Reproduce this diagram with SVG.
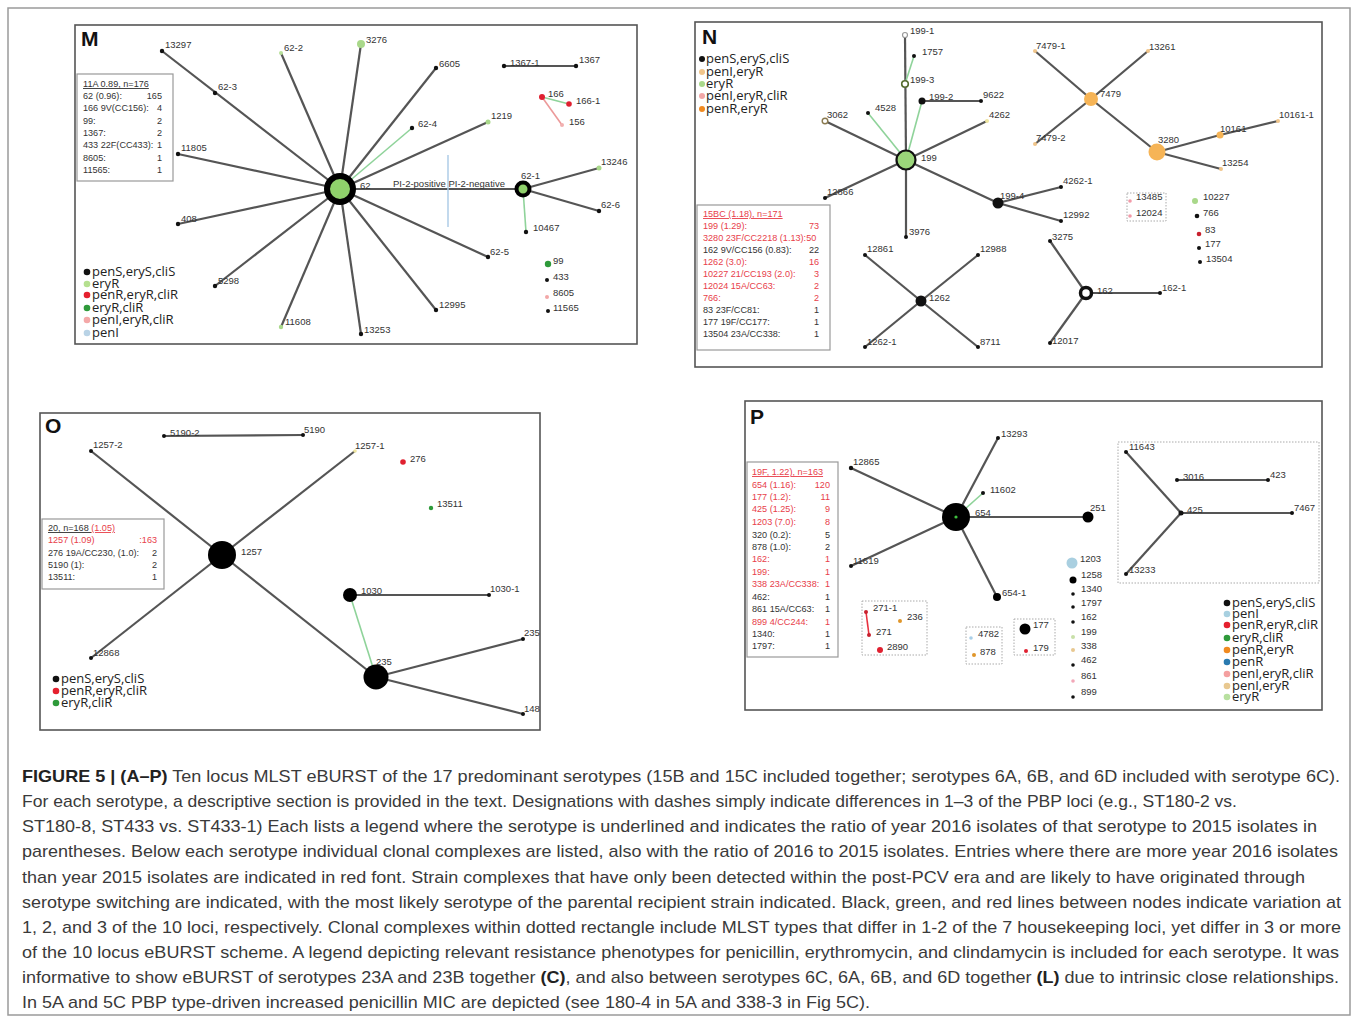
<svg xmlns="http://www.w3.org/2000/svg" width="1357" height="1022" viewBox="0 0 1357 1022">
<style>
.bg{fill:#fff}
.frame{fill:none;stroke:#9a9a9a;stroke-width:1.5}
.box{fill:#fff;stroke:#555;stroke-width:1.6}
.lbox{fill:#fff;stroke:#999;stroke-width:1.2}
.dbox{fill:none;stroke:#aaa;stroke-width:1;stroke-dasharray:1.5,1.5}
.e{stroke:#555;stroke-width:2.2;fill:none}
.eg{stroke:#8fd39a;stroke-width:1.6;fill:none}
.er{stroke:#e8303e;stroke-width:1.6;fill:none}
.ep{stroke:#ec9a9a;stroke-width:1.6;fill:none}
.eb{stroke:#a9c9e6;stroke-width:1.4;fill:none}
.t{font-family:"Liberation Sans",Arial,sans-serif;font-size:9.5px;fill:#333}
.lg{font-family:"Liberation Sans",Arial,sans-serif;font-size:9.1px;fill:#333}
.red{fill:#e8404a}
.key{font-family:"Open Sans","Liberation Sans",sans-serif;font-size:13px;fill:#222}
.pl{font-family:"Liberation Sans",Arial,sans-serif;font-size:21px;font-weight:bold;fill:#111}
.cap{font-family:"Liberation Sans",Arial,sans-serif;font-size:16.2px;fill:#3a3a3a}
.b{font-weight:bold;fill:#222}
</style>
<rect class="bg" x="0" y="0" width="1357" height="1022"/>
<rect class="frame" x="8" y="8" width="1342" height="1007"/>

<!-- ===================== PANEL M ===================== -->
<g id="panel-M">
<rect class="box" x="75" y="25" width="562" height="319"/>
<text class="pl" x="81" y="46">M</text>
<g id="m-connectors">
<line class="e" x1="340" y1="189" x2="162" y2="51"/>
<line class="e" x1="340" y1="189" x2="281" y2="53"/>
<line class="e" x1="340" y1="189" x2="361" y2="44"/>
<line class="e" x1="340" y1="189" x2="436" y2="68"/>
<line class="eg" x1="340" y1="189" x2="412" y2="128"/>
<line class="e" x1="340" y1="189" x2="488" y2="122"/>
<line class="e" x1="340" y1="189" x2="523" y2="189"/>
<line class="e" x1="340" y1="189" x2="488" y2="257"/>
<line class="e" x1="340" y1="189" x2="436" y2="310"/>
<line class="e" x1="340" y1="189" x2="361" y2="334"/>
<line class="e" x1="340" y1="189" x2="281" y2="327"/>
<line class="e" x1="340" y1="189" x2="215" y2="286"/>
<line class="e" x1="340" y1="189" x2="178" y2="224"/>
<line class="e" x1="340" y1="189" x2="178" y2="154"/>
<line class="e" x1="523" y1="189" x2="599" y2="168"/>
<line class="e" x1="523" y1="189" x2="599" y2="211"/>
<line class="eg" x1="523" y1="189" x2="526" y2="232"/>
<line class="e" x1="504" y1="66" x2="576" y2="66"/>
<line class="eg" x1="542" y1="97" x2="569" y2="104"/>
<line class="ep" x1="542" y1="97" x2="562" y2="125"/>
<line class="eb" x1="448" y1="155" x2="448" y2="227"/>
</g>
<text class="t" x="393" y="187" font-size="9">PI-2-positive  PI-2-negative</text>
<g id="m-62"><circle cx="340" cy="189" r="13" fill="#8fd16b" stroke="#000" stroke-width="6"/><text class="t" x="360" y="189">62</text></g>
<g id="m-62-1"><circle cx="523" cy="189" r="6.5" fill="#8fd16b" stroke="#000" stroke-width="4"/><text class="t" x="521" y="179">62-1</text></g>
<g id="m-13297"><circle cx="162" cy="51" r="2.2" fill="#111"/><text class="t" x="165" y="48">13297</text></g>
<g id="m-62-3"><circle cx="215" cy="93" r="2.2" fill="#111"/><text class="t" x="218" y="90">62-3</text></g>
<g id="m-62-2"><circle cx="281" cy="53" r="2" fill="#b8e09a"/><text class="t" x="284" y="51">62-2</text></g>
<g id="m-3276"><circle cx="361" cy="44" r="4" fill="#a9d88a"/><text class="t" x="366" y="43">3276</text></g>
<g id="m-6605"><circle cx="436" cy="68" r="2.2" fill="#111"/><text class="t" x="439" y="67">6605</text></g>
<g id="m-62-4"><circle cx="412" cy="128" r="2.2" fill="#111"/><text class="t" x="418" y="127">62-4</text></g>
<g id="m-1219"><circle cx="488" cy="122" r="2.5" fill="#a9d88a"/><text class="t" x="491" y="119">1219</text></g>
<g id="m-11805"><circle cx="178" cy="154" r="2.2" fill="#111"/><text class="t" x="181" y="151">11805</text></g>
<g id="m-408"><circle cx="178" cy="224" r="2.2" fill="#111"/><text class="t" x="181" y="222">408</text></g>
<g id="m-5298"><circle cx="215" cy="286" r="2.2" fill="#111"/><text class="t" x="218" y="284">5298</text></g>
<g id="m-11608"><circle cx="281" cy="327" r="2.2" fill="#a9d88a"/><text class="t" x="285" y="325">11608</text></g>
<g id="m-13253"><circle cx="361" cy="334" r="2.2" fill="#111"/><text class="t" x="364" y="333">13253</text></g>
<g id="m-12995"><circle cx="436" cy="310" r="2.2" fill="#111"/><text class="t" x="439" y="308">12995</text></g>
<g id="m-62-5"><circle cx="488" cy="257" r="2.2" fill="#111"/><text class="t" x="490" y="255">62-5</text></g>
<g id="m-13246"><circle cx="599" cy="168" r="2.5" fill="#a9d88a"/><text class="t" x="601" y="165">13246</text></g>
<g id="m-62-6"><circle cx="599" cy="211" r="2.2" fill="#111"/><text class="t" x="601" y="208">62-6</text></g>
<g id="m-10467"><circle cx="526" cy="232" r="2.2" fill="#111"/><text class="t" x="533" y="231">10467</text></g>
<g id="m-1367-1"><circle cx="504" cy="66" r="2.2" fill="#111"/><text class="t" x="510" y="66">1367-1</text></g>
<g id="m-1367"><circle cx="576" cy="66" r="2.2" fill="#111"/><text class="t" x="579" y="63">1367</text></g>
<g id="m-166"><circle cx="542" cy="97" r="3" fill="#e02030"/><text class="t" x="548" y="97">166</text></g>
<g id="m-166-1"><circle cx="569" cy="104" r="2.8" fill="#e02030"/><text class="t" x="576" y="104">166-1</text></g>
<g id="m-156"><circle cx="562" cy="125" r="2" fill="#f2b0b0"/><text class="t" x="569" y="125">156</text></g>
<g id="m-99"><circle cx="548" cy="264" r="3.2" fill="#2e9a3a"/><text class="t" x="553" y="264">99</text></g>
<g id="m-433"><circle cx="547" cy="280" r="2" fill="#111"/><text class="t" x="553" y="280">433</text></g>
<g id="m-8605"><circle cx="547" cy="297" r="2" fill="#f2a7a7"/><text class="t" x="553" y="296">8605</text></g>
<g id="m-11565"><circle cx="548" cy="311" r="2" fill="#111"/><text class="t" x="553" y="311">11565</text></g>
<g id="m-legend">
<rect class="lbox" x="77" y="74" width="96" height="107"/>
<text class="lg" x="83" y="87" text-decoration="underline">11A 0.89,   n=176</text>
<text class="lg" x="83" y="99">62 (0.96):</text><text class="lg" x="162" y="99" text-anchor="end">165</text>
<text class="lg" x="83" y="111">166 9V(CC156):</text><text class="lg" x="162" y="111" text-anchor="end">4</text>
<text class="lg" x="83" y="124">99:</text><text class="lg" x="162" y="124" text-anchor="end">2</text>
<text class="lg" x="83" y="136">1367:</text><text class="lg" x="162" y="136" text-anchor="end">2</text>
<text class="lg" x="83" y="148">433 22F(CC433):</text><text class="lg" x="162" y="148" text-anchor="end">1</text>
<text class="lg" x="83" y="161">8605:</text><text class="lg" x="162" y="161" text-anchor="end">1</text>
<text class="lg" x="83" y="173">11565:</text><text class="lg" x="162" y="173" text-anchor="end">1</text>
</g>
<g id="m-key">
<circle cx="87" cy="272" r="3.3" fill="#111"/><text class="key" x="92" y="276">penS,eryS,cliS</text>
<circle cx="87" cy="284" r="3.3" fill="#b5e08f"/><text class="key" x="92" y="288">eryR</text>
<circle cx="87" cy="295" r="3.3" fill="#e5202e"/><text class="key" x="92" y="299">penR,eryR,cliR</text>
<circle cx="87" cy="308" r="3.3" fill="#2e9a3a"/><text class="key" x="92" y="312">eryR,cliR</text>
<circle cx="87" cy="320" r="3.3" fill="#f4a8a8"/><text class="key" x="92" y="324">penI,eryR,cliR</text>
<circle cx="87" cy="333" r="3.3" fill="#b9d3e6"/><text class="key" x="92" y="337">penI</text>
</g>
</g>

<!-- ===================== PANEL N ===================== -->
<g id="panel-N">
<rect class="box" x="695" y="22" width="627" height="345"/>
<text class="pl" x="702" y="44">N</text>
<g id="n-connectors">
<line class="e" x1="906" y1="160" x2="905" y2="35"/>
<line class="eg" x1="905" y1="84" x2="914" y2="56"/>
<line class="eg" x1="906" y1="160" x2="922" y2="101"/>
<line class="e" x1="922" y1="101" x2="981" y2="101"/>
<line class="eg" x1="906" y1="160" x2="868" y2="113"/>
<line class="e" x1="906" y1="160" x2="825" y2="121"/>
<line class="e" x1="906" y1="160" x2="987" y2="121"/>
<line class="e" x1="906" y1="160" x2="825" y2="198"/>
<line class="e" x1="906" y1="160" x2="906" y2="237"/>
<line class="e" x1="906" y1="160" x2="998" y2="203"/>
<line class="e" x1="998" y1="203" x2="1061" y2="187"/>
<line class="e" x1="998" y1="203" x2="1061" y2="221"/>
<line class="e" x1="1086" y1="293" x2="1050" y2="241"/>
<line class="e" x1="1086" y1="293" x2="1160" y2="293"/>
<line class="e" x1="1086" y1="293" x2="1050" y2="343"/>
<line class="e" x1="921" y1="301" x2="865" y2="255"/>
<line class="e" x1="921" y1="301" x2="978" y2="255"/>
<line class="e" x1="921" y1="301" x2="865" y2="347"/>
<line class="e" x1="921" y1="301" x2="978" y2="347"/>
<line class="e" x1="1091" y1="99" x2="1035" y2="51"/>
<line class="e" x1="1091" y1="99" x2="1148" y2="51"/>
<line class="e" x1="1091" y1="99" x2="1035" y2="144"/>
<line class="e" x1="1091" y1="99" x2="1157" y2="152"/>
<line class="e" x1="1157" y1="152" x2="1220" y2="135"/>
<line class="e" x1="1220" y1="135" x2="1278" y2="121"/>
<line class="e" x1="1157" y1="152" x2="1221" y2="169"/>
</g>
<g id="n-199"><circle cx="906" cy="160" r="9.5" fill="#9bd67a" stroke="#111" stroke-width="2.2"/><text class="t" x="921" y="161">199</text></g>
<g id="n-199-1"><circle cx="905" cy="35" r="2.5" fill="#fff" stroke="#999" stroke-width="1.2"/><text class="t" x="910" y="34">199-1</text></g>
<g id="n-1757"><circle cx="914" cy="56" r="2" fill="#111"/><text class="t" x="922" y="55">1757</text></g>
<g id="n-199-3"><circle cx="905" cy="84" r="3.3" fill="#fff" stroke="#556b2f" stroke-width="1.6"/><text class="t" x="910" y="83">199-3</text></g>
<g id="n-199-2"><circle cx="922" cy="101" r="3.5" fill="#111"/><text class="t" x="929" y="100">199-2</text></g>
<g id="n-9622"><circle cx="981" cy="101" r="2" fill="#111"/><text class="t" x="983" y="98">9622</text></g>
<g id="n-4528"><circle cx="868" cy="113" r="2" fill="#111"/><text class="t" x="875" y="111">4528</text></g>
<g id="n-3062"><circle cx="825" cy="121" r="2.8" fill="#fff" stroke="#8a7a50" stroke-width="1.4"/><text class="t" x="827" y="118">3062</text></g>
<g id="n-4262"><circle cx="987" cy="121" r="2" fill="#efe6a0"/><text class="t" x="989" y="118">4262</text></g>
<g id="n-12866"><circle cx="825" cy="198" r="2" fill="#111"/><text class="t" x="827" y="195">12866</text></g>
<g id="n-3976"><circle cx="906" cy="237" r="2" fill="#111"/><text class="t" x="909" y="235">3976</text></g>
<g id="n-199-4"><circle cx="998" cy="203" r="5.5" fill="#111"/><text class="t" x="1000" y="199">199-4</text></g>
<g id="n-4262-1"><circle cx="1061" cy="187" r="2" fill="#111"/><text class="t" x="1063" y="184">4262-1</text></g>
<g id="n-12992"><circle cx="1061" cy="221" r="2" fill="#111"/><text class="t" x="1063" y="218">12992</text></g>
<g id="n-3275"><circle cx="1050" cy="241" r="2" fill="#111"/><text class="t" x="1052" y="240">3275</text></g>
<g id="n-162"><circle cx="1086" cy="293" r="5.5" fill="#fff" stroke="#111" stroke-width="3.5"/><text class="t" x="1097" y="294">162</text></g>
<g id="n-162-1"><circle cx="1160" cy="293" r="2" fill="#111"/><text class="t" x="1162" y="291">162-1</text></g>
<g id="n-12017"><circle cx="1050" cy="343" r="2" fill="#111"/><text class="t" x="1052" y="344">12017</text></g>
<g id="n-1262"><circle cx="921" cy="301" r="5.5" fill="#111"/><text class="t" x="929" y="301">1262</text></g>
<g id="n-12861"><circle cx="865" cy="255" r="2" fill="#111"/><text class="t" x="867" y="252">12861</text></g>
<g id="n-12988"><circle cx="978" cy="255" r="2" fill="#111"/><text class="t" x="980" y="252">12988</text></g>
<g id="n-1262-1"><circle cx="865" cy="347" r="2" fill="#111"/><text class="t" x="867" y="345">1262-1</text></g>
<g id="n-8711"><circle cx="978" cy="347" r="2" fill="#111"/><text class="t" x="980" y="345">8711</text></g>
<g id="n-7479"><circle cx="1091" cy="99" r="7" fill="#f6b456"/><text class="t" x="1100" y="97">7479</text></g>
<g id="n-7479-1"><circle cx="1035" cy="51" r="2" fill="#f0c58a"/><text class="t" x="1036" y="49">7479-1</text></g>
<g id="n-13261"><circle cx="1148" cy="51" r="2" fill="#f0c58a"/><text class="t" x="1149" y="50">13261</text></g>
<g id="n-7479-2"><circle cx="1035" cy="144" r="2" fill="#f0c58a"/><text class="t" x="1036" y="141">7479-2</text></g>
<g id="n-3280"><circle cx="1157" cy="152" r="8.5" fill="#f6b456"/><text class="t" x="1158" y="143">3280</text></g>
<g id="n-10161"><circle cx="1220" cy="135" r="3.5" fill="#f6b456"/><text class="t" x="1220" y="132">10161</text></g>
<g id="n-10161-1"><circle cx="1278" cy="121" r="2" fill="#f0c58a"/><text class="t" x="1279" y="118">10161-1</text></g>
<g id="n-13254"><circle cx="1221" cy="169" r="2" fill="#f0c58a"/><text class="t" x="1222" y="166">13254</text></g>
<g id="n-cluster-13485">
<rect class="dbox" x="1127" y="193" width="39" height="28"/>
<circle cx="1130" cy="201" r="1.8" fill="#f29aa8"/><text class="t" x="1136" y="200">13485</text>
<circle cx="1130" cy="216" r="1.8" fill="#f29aa8"/><text class="t" x="1136" y="216">12024</text>
</g>
<g id="n-10227"><circle cx="1195" cy="201" r="3" fill="#a9d88a"/><text class="t" x="1203" y="200">10227</text></g>
<g id="n-766"><circle cx="1197" cy="216" r="2.3" fill="#111"/><text class="t" x="1203" y="216">766</text></g>
<g id="n-83"><circle cx="1199" cy="234" r="2.3" fill="#c8202e"/><text class="t" x="1205" y="233">83</text></g>
<g id="n-177"><circle cx="1199" cy="248" r="2" fill="#111"/><text class="t" x="1205" y="247">177</text></g>
<g id="n-13504"><circle cx="1200" cy="262" r="2" fill="#111"/><text class="t" x="1206" y="262">13504</text></g>
<g id="n-legend">
<rect class="lbox" x="697" y="205" width="133" height="145"/>
<text class="lg red" x="703" y="217" text-decoration="underline">15BC (1.18),             n=171</text>
<text class="lg red" x="703" y="229">199 (1.29):</text><text class="lg red" x="819" y="229" text-anchor="end">73</text>
<text class="lg red" x="703" y="241">3280 23F/CC2218 (1.13):50</text>
<text class="lg" x="703" y="253">162 9V/CC156 (0.83):</text><text class="lg" x="819" y="253" text-anchor="end">22</text>
<text class="lg red" x="703" y="265">1262 (3.0):</text><text class="lg red" x="819" y="265" text-anchor="end">16</text>
<text class="lg red" x="703" y="277">10227 21/CC193 (2.0):</text><text class="lg red" x="819" y="277" text-anchor="end">3</text>
<text class="lg red" x="703" y="289">12024 15A/CC63:</text><text class="lg red" x="819" y="289" text-anchor="end">2</text>
<text class="lg red" x="703" y="301">766:</text><text class="lg red" x="819" y="301" text-anchor="end">2</text>
<text class="lg" x="703" y="313">83 23F/CC81:</text><text class="lg" x="819" y="313" text-anchor="end">1</text>
<text class="lg" x="703" y="325">177 19F/CC177:</text><text class="lg" x="819" y="325" text-anchor="end">1</text>
<text class="lg" x="703" y="337">13504 23A/CC338:</text><text class="lg" x="819" y="337" text-anchor="end">1</text>
</g>
<g id="n-key">
<circle cx="702" cy="59" r="3" fill="#111"/><text class="key" x="706" y="63">penS,eryS,cliS</text>
<circle cx="702" cy="72" r="3" fill="#f0c58a"/><text class="key" x="706" y="76">penI,eryR</text>
<circle cx="702" cy="84" r="3" fill="#a9d88a"/><text class="key" x="706" y="88">eryR</text>
<circle cx="702" cy="96" r="3" fill="#f2a7a7"/><text class="key" x="706" y="100">penI,eryR,cliR</text>
<circle cx="702" cy="109" r="3" fill="#f08a20"/><text class="key" x="706" y="113">penR,eryR</text>
</g>
</g>

<!-- ===================== PANEL O ===================== -->
<g id="panel-O">
<rect class="box" x="40" y="413" width="500" height="317"/>
<text class="pl" x="45" y="433">O</text>
<g id="o-connectors">
<line class="e" x1="222" y1="555" x2="91" y2="451"/>
<line class="e" x1="222" y1="555" x2="355" y2="451"/>
<line class="e" x1="222" y1="555" x2="91" y2="658"/>
<line class="e" x1="222" y1="555" x2="376" y2="677"/>
<line class="e" x1="164" y1="436" x2="303" y2="435"/>
<line class="e" x1="350" y1="595" x2="489" y2="595"/>
<line class="eg" x1="350" y1="595" x2="376" y2="677"/>
<line class="e" x1="376" y1="677" x2="523" y2="639"/>
<line class="e" x1="376" y1="677" x2="523" y2="714"/>
</g>
<g id="o-1257"><circle cx="222" cy="555" r="14" fill="#000"/><text class="t" x="241" y="555">1257</text></g>
<g id="o-1257-2"><circle cx="91" cy="451" r="2" fill="#111"/><text class="t" x="93" y="448">1257-2</text></g>
<g id="o-5190-2"><circle cx="164" cy="436" r="2" fill="#111"/><text class="t" x="170" y="436">5190-2</text></g>
<g id="o-5190"><circle cx="303" cy="435" r="2" fill="#111"/><text class="t" x="304" y="433">5190</text></g>
<g id="o-1257-1"><circle cx="355" cy="451" r="1.8" fill="#efe6a0"/><text class="t" x="355" y="449">1257-1</text></g>
<g id="o-276"><circle cx="403" cy="462" r="2.8" fill="#e02030"/><text class="t" x="410" y="462">276</text></g>
<g id="o-13511"><circle cx="431" cy="508" r="2.2" fill="#2e9a3a"/><text class="t" x="437" y="507">13511</text></g>
<g id="o-12868"><circle cx="91" cy="658" r="2" fill="#111"/><text class="t" x="93" y="656">12868</text></g>
<g id="o-1030"><circle cx="350" cy="595" r="7" fill="#000"/><text class="t" x="361" y="594">1030</text></g>
<g id="o-1030-1"><circle cx="489" cy="595" r="2" fill="#111"/><text class="t" x="490" y="592">1030-1</text></g>
<g id="o-235"><circle cx="376" cy="677" r="12.5" fill="#000"/><text class="t" x="376" y="665">235</text></g>
<g id="o-235b"><circle cx="523" cy="639" r="2" fill="#111"/><text class="t" x="524" y="636">235</text></g>
<g id="o-148"><circle cx="523" cy="714" r="2" fill="#111"/><text class="t" x="524" y="712">148</text></g>
<g id="o-legend">
<rect class="lbox" x="42" y="519" width="122" height="70"/>
<text class="lg" x="48" y="531"><tspan text-decoration="underline">20, n=168 </tspan><tspan class="red" text-decoration="underline">(1.05)</tspan></text>
<text class="lg red" x="48" y="543">1257 (1.09)</text><text class="lg red" x="157" y="543" text-anchor="end">:163</text>
<text class="lg" x="48" y="556">276 19A/CC230, (1.0):</text><text class="lg" x="157" y="556" text-anchor="end">2</text>
<text class="lg" x="48" y="568">5190 (1):</text><text class="lg" x="157" y="568" text-anchor="end">2</text>
<text class="lg" x="48" y="580">13511:</text><text class="lg" x="157" y="580" text-anchor="end">1</text>
</g>
<g id="o-key">
<circle cx="56" cy="679" r="3.3" fill="#111"/><text class="key" x="61" y="683">penS,eryS,cliS</text>
<circle cx="56" cy="691" r="3.3" fill="#e5202e"/><text class="key" x="61" y="695">penR,eryR,cliR</text>
<circle cx="56" cy="703" r="3.3" fill="#2e9a3a"/><text class="key" x="61" y="707">eryR,cliR</text>
</g>
</g>

<!-- ===================== PANEL P ===================== -->
<g id="panel-P">
<rect class="box" x="745" y="401" width="577" height="309"/>
<text class="pl" x="750" y="424">P</text>
<g id="p-connectors">
<line class="e" x1="956" y1="517" x2="998" y2="438"/>
<line class="e" x1="956" y1="517" x2="851" y2="468"/>
<line class="eg" x1="956" y1="517" x2="983" y2="493"/>
<line class="e" x1="956" y1="517" x2="1088" y2="517"/>
<line class="e" x1="956" y1="517" x2="851" y2="566"/>
<line class="e" x1="956" y1="517" x2="997" y2="597"/>
<line class="er" x1="866" y1="612" x2="869" y2="635"/>
<line class="e" x1="1181" y1="513" x2="1126" y2="452"/>
<line class="e" x1="1181" y1="513" x2="1126" y2="574"/>
<line class="e" x1="1181" y1="513" x2="1292" y2="513"/>
<line class="e" x1="1177" y1="480" x2="1268" y2="480"/>
</g>
<g id="p-654"><circle cx="956" cy="517" r="14" fill="#000"/><circle cx="956" cy="517" r="1.6" fill="#3fbf3f"/><text class="t" x="975" y="516">654</text></g>
<g id="p-13293"><circle cx="998" cy="438" r="2" fill="#111"/><text class="t" x="1001" y="437">13293</text></g>
<g id="p-12865"><circle cx="851" cy="468" r="2.2" fill="#111"/><text class="t" x="853" y="465">12865</text></g>
<g id="p-11602"><circle cx="983" cy="493" r="2" fill="#111"/><text class="t" x="990" y="493">11602</text></g>
<g id="p-11619"><circle cx="851" cy="566" r="2" fill="#111"/><text class="t" x="853" y="564">11619</text></g>
<g id="p-654-1"><circle cx="997" cy="597" r="4" fill="#000"/><text class="t" x="1002" y="596">654-1</text></g>
<g id="p-251"><circle cx="1088" cy="517" r="5.5" fill="#000"/><text class="t" x="1090" y="511">251</text></g>
<g id="p-cluster-271">
<rect class="dbox" x="862" y="601" width="65" height="54"/>
<circle cx="866" cy="612" r="2" fill="#c8202e"/><text class="t" x="873" y="611">271-1</text>
<circle cx="869" cy="635" r="2" fill="#c8202e"/><text class="t" x="876" y="635">271</text>
<circle cx="900" cy="621" r="2" fill="#e0962a"/><text class="t" x="907" y="620">236</text>
<circle cx="880" cy="650" r="3" fill="#e02030"/><text class="t" x="887" y="650">2890</text>
</g>
<g id="p-cluster-4782">
<rect class="dbox" x="966" y="627" width="36" height="37"/>
<circle cx="971" cy="638" r="1.8" fill="#a9cfe8"/><text class="t" x="978" y="637">4782</text>
<circle cx="974" cy="655" r="2" fill="#e0962a"/><text class="t" x="980" y="655">878</text>
</g>
<g id="p-cluster-177">
<rect class="dbox" x="1014" y="619" width="41" height="36"/>
<circle cx="1025" cy="629" r="5.5" fill="#000"/><text class="t" x="1033" y="628">177</text>
<circle cx="1026" cy="651" r="2" fill="#e02030"/><text class="t" x="1033" y="651">179</text>
</g>
<g id="p-1203"><circle cx="1072" cy="563" r="5.5" fill="#a9cfe0"/><text class="t" x="1080" y="562">1203</text></g>
<g id="p-1258"><circle cx="1073" cy="580" r="3.5" fill="#000"/><text class="t" x="1081" y="578">1258</text></g>
<g id="p-1340"><circle cx="1073" cy="594" r="1.8" fill="#111"/><text class="t" x="1081" y="592">1340</text></g>
<g id="p-1797"><circle cx="1073" cy="607" r="1.8" fill="#111"/><text class="t" x="1081" y="606">1797</text></g>
<g id="p-162"><circle cx="1073" cy="622" r="1.8" fill="#111"/><text class="t" x="1081" y="620">162</text></g>
<g id="p-199"><circle cx="1073" cy="637" r="2" fill="#c8e0a8"/><text class="t" x="1081" y="635">199</text></g>
<g id="p-338"><circle cx="1073" cy="650" r="2" fill="#e8c890"/><text class="t" x="1081" y="649">338</text></g>
<g id="p-462"><circle cx="1073" cy="665" r="1.8" fill="#111"/><text class="t" x="1081" y="663">462</text></g>
<g id="p-861"><circle cx="1073" cy="681" r="1.8" fill="#f2a7b8"/><text class="t" x="1081" y="679">861</text></g>
<g id="p-899"><circle cx="1073" cy="697" r="1.8" fill="#111"/><text class="t" x="1081" y="695">899</text></g>
<g id="p-cluster-425">
<rect class="dbox" x="1118" y="442" width="201" height="141"/>
</g>
<g id="p-425"><circle cx="1181" cy="513" r="2.5" fill="#111"/><text class="t" x="1187" y="513">425</text></g>
<g id="p-11643"><circle cx="1126" cy="452" r="2" fill="#111"/><text class="t" x="1129" y="450">11643</text></g>
<g id="p-13233"><circle cx="1126" cy="574" r="2" fill="#111"/><text class="t" x="1129" y="573">13233</text></g>
<g id="p-3016"><circle cx="1177" cy="480" r="2" fill="#111"/><text class="t" x="1183" y="480">3016</text></g>
<g id="p-423"><circle cx="1268" cy="480" r="2" fill="#111"/><text class="t" x="1270" y="478">423</text></g>
<g id="p-7467"><circle cx="1292" cy="513" r="2" fill="#111"/><text class="t" x="1294" y="511">7467</text></g>
<g id="p-legend">
<rect class="lbox" x="747" y="462" width="91" height="195"/>
<text class="lg red" x="752" y="475" text-decoration="underline">19F, 1.22), n=163</text>
<text class="lg red" x="752" y="488">654 (1.16):</text><text class="lg red" x="830" y="488" text-anchor="end">120</text>
<text class="lg red" x="752" y="500">177 (1.2):</text><text class="lg red" x="830" y="500" text-anchor="end">11</text>
<text class="lg red" x="752" y="512">425 (1.25):</text><text class="lg red" x="830" y="512" text-anchor="end">9</text>
<text class="lg red" x="752" y="525">1203 (7.0):</text><text class="lg red" x="830" y="525" text-anchor="end">8</text>
<text class="lg" x="752" y="538">320 (0.2):</text><text class="lg" x="830" y="538" text-anchor="end">5</text>
<text class="lg" x="752" y="550">878 (1.0):</text><text class="lg" x="830" y="550" text-anchor="end">2</text>
<text class="lg red" x="752" y="562">162:</text><text class="lg red" x="830" y="562" text-anchor="end">1</text>
<text class="lg red" x="752" y="575">199:</text><text class="lg red" x="830" y="575" text-anchor="end">1</text>
<text class="lg red" x="752" y="587">338 23A/CC338:</text><text class="lg red" x="830" y="587" text-anchor="end">1</text>
<text class="lg" x="752" y="600">462:</text><text class="lg" x="830" y="600" text-anchor="end">1</text>
<text class="lg" x="752" y="612">861 15A/CC63:</text><text class="lg" x="830" y="612" text-anchor="end">1</text>
<text class="lg red" x="752" y="625">899 4/CC244:</text><text class="lg red" x="830" y="625" text-anchor="end">1</text>
<text class="lg" x="752" y="637">1340:</text><text class="lg" x="830" y="637" text-anchor="end">1</text>
<text class="lg" x="752" y="649">1797:</text><text class="lg" x="830" y="649" text-anchor="end">1</text>
</g>
<g id="p-key">
<circle cx="1227" cy="603" r="3.3" fill="#111"/><text class="key" x="1232" y="607">penS,eryS,cliS</text>
<circle cx="1227" cy="614" r="3.3" fill="#a8d0e0"/><text class="key" x="1232" y="618">penI</text>
<circle cx="1227" cy="625" r="3.3" fill="#e5202e"/><text class="key" x="1232" y="629">penR,eryR,cliR</text>
<circle cx="1227" cy="638" r="3.3" fill="#2e9a3a"/><text class="key" x="1232" y="642">eryR,cliR</text>
<circle cx="1227" cy="650" r="3.3" fill="#f08a20"/><text class="key" x="1232" y="654">penR,eryR</text>
<circle cx="1227" cy="662" r="3.3" fill="#2a7ab0"/><text class="key" x="1232" y="666">penR</text>
<circle cx="1227" cy="674" r="3.3" fill="#f4a0a0"/><text class="key" x="1232" y="678">penI,eryR,cliR</text>
<circle cx="1227" cy="686" r="3.3" fill="#e8c890"/><text class="key" x="1232" y="690">penI,eryR</text>
<circle cx="1227" cy="697" r="3.3" fill="#b8e0a0"/><text class="key" x="1232" y="701">eryR</text>
</g>
</g>

<!-- ===================== CAPTION ===================== -->
<g id="caption">
<text class="cap" x="22" y="782" textLength="1318" lengthAdjust="spacingAndGlyphs"><tspan class="b">FIGURE 5 | (A–P)</tspan> Ten locus MLST eBURST of the 17 predominant serotypes (15B and 15C included together; serotypes 6A, 6B, and 6D included with serotype 6C).</text>
<text class="cap" x="22" y="807" textLength="1215" lengthAdjust="spacingAndGlyphs">For each serotype, a descriptive section is provided in the text. Designations with dashes simply indicate differences in 1–3 of the PBP loci (e.g., ST180-2 vs.</text>
<text class="cap" x="22" y="832" textLength="1295" lengthAdjust="spacingAndGlyphs">ST180-8, ST433 vs. ST433-1) Each lists a legend where the serotype is underlined and indicates the ratio of year 2016 isolates of that serotype to 2015 isolates in</text>
<text class="cap" x="22" y="857" textLength="1316" lengthAdjust="spacingAndGlyphs">parentheses. Below each serotype individual clonal complexes are listed, also with the ratio of 2016 to 2015 isolates. Entries where there are more year 2016 isolates</text>
<text class="cap" x="22" y="883" textLength="1283" lengthAdjust="spacingAndGlyphs">than year 2015 isolates are indicated in red font. Strain complexes that have only been detected within the post-PCV era and are likely to have originated through</text>
<text class="cap" x="22" y="908" textLength="1319" lengthAdjust="spacingAndGlyphs">serotype switching are indicated, with the most likely serotype of the parental recipient strain indicated. Black, green, and red lines between nodes indicate variation at</text>
<text class="cap" x="22" y="933" textLength="1319" lengthAdjust="spacingAndGlyphs">1, 2, and 3 of the 10 loci, respectively. Clonal complexes within dotted rectangle include MLST types that differ in 1-2 of the 7 housekeeping loci, yet differ in 3 or more</text>
<text class="cap" x="22" y="958" textLength="1317" lengthAdjust="spacingAndGlyphs">of the 10 locus eBURST scheme. A legend depicting relevant resistance phenotypes for penicillin, erythromycin, and clindamycin is included for each serotype. It was</text>
<text class="cap" x="22" y="983" textLength="1317" lengthAdjust="spacingAndGlyphs">informative to show eBURST of serotypes 23A and 23B together <tspan class="b">(C)</tspan>, and also between serotypes 6C, 6A, 6B, and 6D together <tspan class="b">(L)</tspan> due to intrinsic close relationships.</text>
<text class="cap" x="22" y="1008" textLength="848" lengthAdjust="spacingAndGlyphs">In 5A and 5C PBP type-driven increased penicillin MIC are depicted (see 180-4 in 5A and 338-3 in Fig 5C).</text>
</g>
</svg>
